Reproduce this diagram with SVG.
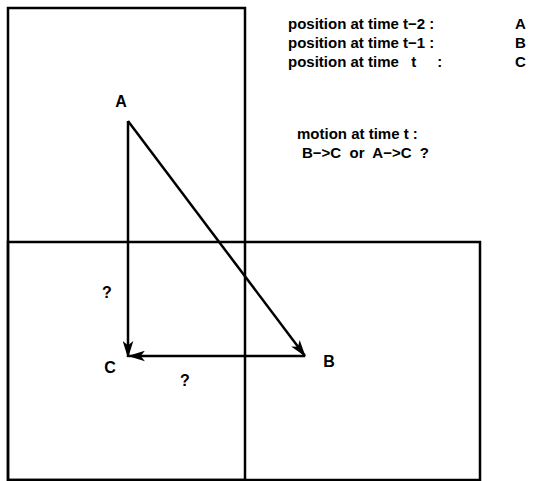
<svg xmlns="http://www.w3.org/2000/svg" width="538" height="481" viewBox="0 0 538 481">
<style>
.frame{fill:none;stroke:#000;stroke-width:2.5}
.arrow{fill:none;stroke:#000;stroke-width:2.5;marker-end:url(#head)}
text{font-family:"Liberation Sans",Arial,sans-serif;font-weight:bold;font-size:15px;fill:#000}
.lbl{text-anchor:middle;font-size:16px}
</style>
<defs>
<marker id="head" viewBox="0 0 16 10" refX="15" refY="5" markerWidth="17" markerHeight="11" markerUnits="userSpaceOnUse" orient="auto">
<path d="M0,0 L16,5 L0,10 L4,5 Z" fill="#000"/>
</marker>
</defs>
<g id="frames">
<rect class="frame" x="8" y="8" width="237" height="472"/>
<rect class="frame" x="8" y="242" width="472" height="238"/>
</g>
<g id="connectors">
<line class="arrow" x1="128" y1="121" x2="128" y2="357"/>
<line class="arrow" x1="128" y1="121" x2="305" y2="356"/>
<line class="arrow" x1="305" y1="356" x2="129" y2="356"/>
</g>
<g id="node-A"><text class="lbl" x="121" y="107">A</text></g>
<g id="node-B"><text class="lbl" x="329" y="367">B</text></g>
<g id="node-C"><text class="lbl" x="110" y="373">C</text></g>
<g id="labels">
<text class="lbl" x="107" y="298">?</text>
<text class="lbl" x="185" y="386">?</text>
</g>
<g id="legend">
<text x="288" y="29">position at time t−2 :</text>
<text x="515" y="29">A</text>
<text x="288" y="48">position at time t−1 :</text>
<text x="515" y="48">B</text>
<text x="288" y="67" xml:space="preserve">position at time   t     :</text>
<text x="515" y="67">C</text>
<text x="297" y="139">motion at time t :</text>
<text x="302" y="158" xml:space="preserve">B−&gt;C  or  A−&gt;C  ?</text>
</g>
</svg>
